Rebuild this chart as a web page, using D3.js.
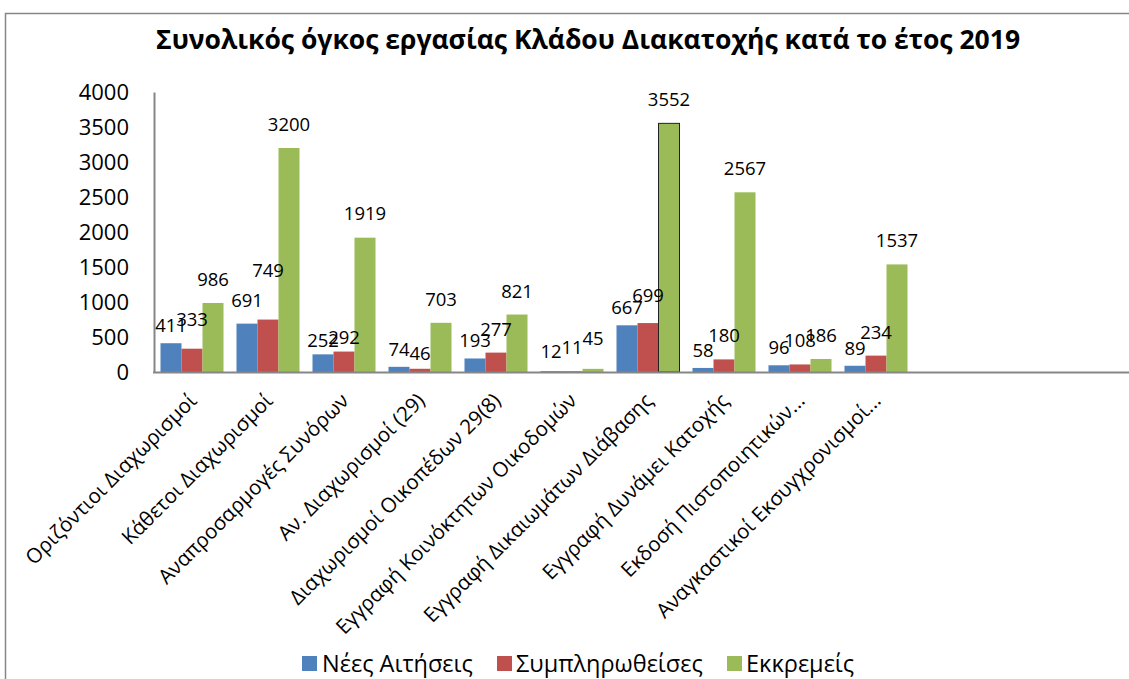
<!DOCTYPE html>
<html><head><meta charset="utf-8">
<script src="https://cdn.jsdelivr.net/npm/d3@7"></script>
<style>
html,body{margin:0;padding:0;background:#fff;}
svg{display:block;font-family:"Open Sans",sans-serif;}
</style></head>
<body>
<svg id="c" width="1129" height="679"></svg>
<script>
const title = "Συνολικός όγκος εργασίας Κλάδου Διακατοχής κατά το έτος 2019";
const categories = ["Οριζόντιοι Διαχωρισμοί","Κάθετοι Διαχωρισμοί","Αναπροσαρμογές Συνόρων","Αν. Διαχωρισμοί (29)","Διαχωρισμοί Οικοπέδων 29(8)","Εγγραφή Κοινόκτητων Οικοδομών","Εγγραφή Δικαιωμάτων Διάβασης","Εγγραφή Δυνάμει Κατοχής","Εκδοσή Πιστοποιητικών...","Αναγκαστικοί Εκσυγχρονισμοί..."];
const seriesNames = ["Νέες Αιτήσεις","Συμπληρωθείσες","Εκκρεμείς"];
const newApps   = [411, 691, 252, 74, 193, 12, 667, 58, 96, 89];
const completed = [333, 749, 292, 46, 277, 11, 699, 180, 108, 234];
const pending   = [986, 3200, 1919, 703, 821, 45, 3552, 2567, 186, 1537];
const yTicks = [0, 500, 1000, 1500, 2000, 2500, 3000, 3500, 4000];
const colors = ["#4F81BD", "#C0504D", "#9BBB59"];

// label placement tweaks (pixels above bar top), as in the reference layout
const seriesLabelGap = [11, 17, 17];
const labelGapOverride = {"0-1": 23, "1-1": 43, "2-0": 7, "2-1": 8, "3-1": 9, "1-0": 17, "2-2": 18, "6-1": 21, "5-0": 13, "5-2": 24};

const values = [newApps, completed, pending];
const svg = d3.select("#c");

// chart border
svg.append("rect").attr("x",5.5).attr("y",13.5).attr("width",1140).attr("height",700)
  .attr("fill","none").attr("stroke","#868686").attr("stroke-width",1.5);

svg.append("text").attr("x",588).attr("y",49).attr("text-anchor","middle")
  .attr("font-size",26.5).attr("font-weight","bold").attr("fill","#000").text(title);

const x0 = d3.scaleBand().domain(categories).range([154, 914]).paddingInner(0.171).paddingOuter(0.0855);
const x1 = d3.scaleBand().domain(seriesNames).range([0, x0.bandwidth()]);
const y = d3.scaleLinear().domain([0, 4000]).range([372, 92]);

// y axis
const yAxis = svg.append("g").attr("transform","translate(154,0)")
  .call(d3.axisLeft(y).tickValues(yTicks).tickSize(0).tickPadding(25).tickFormat(d3.format("d")));
yAxis.select(".domain").attr("stroke","#868686").attr("stroke-width",2);
yAxis.selectAll("text").attr("font-size",22).attr("fill","#000").attr("font-family","Open Sans");

// bars
categories.forEach((c, i) => {
  seriesNames.forEach((s, k) => {
    const v = values[k][i];
    svg.append("rect")
      .attr("x", x0(c) + x1(s)).attr("y", y(v))
      .attr("width", x1.bandwidth()).attr("height", y(0) - y(v))
      .attr("fill", colors[k])
      .attr("stroke", (k === 2 && i === 6) ? "#222" : "none")
      .attr("stroke-width", 1);
  });
});

// baseline
svg.append("line").attr("x1",153).attr("x2",1129).attr("y1",y(0)+0.5).attr("y2",y(0)+0.5)
  .attr("stroke","#868686").attr("stroke-width",2);

// data labels
categories.forEach((c, i) => {
  seriesNames.forEach((s, k) => {
    const v = values[k][i];
    const key = i + "-" + k;
    const gap = labelGapOverride[key] !== undefined ? labelGapOverride[key] : seriesLabelGap[k];
    svg.append("text")
      .attr("x", x0(c) + x1(s) + x1.bandwidth()/2)
      .attr("y", y(v) - gap)
      .attr("text-anchor","middle").attr("font-size",18.5).attr("fill","#000")
      .text(v);
  });
});

// category labels
const xAxis = svg.append("g");
categories.forEach(c => {
  const cx = x0(c) + x0.bandwidth()/2 + 6;
  xAxis.append("text")
    .attr("transform", `translate(${cx},402) rotate(-45)`)
    .attr("text-anchor","end").attr("font-size",20.5).attr("fill","#000")
    .text(c);
});

// legend
const legendItems = [{x:302, tx:322},{x:497, tx:516},{x:727, tx:746}];
seriesNames.forEach((s, k) => {
  svg.append("rect").attr("x",legendItems[k].x).attr("y",656).attr("width",15).attr("height",15).attr("fill",colors[k]);
  svg.append("text").attr("x",legendItems[k].tx).attr("y",672).attr("font-size",23.5).attr("fill","#000").text(s);
});
</script>
</body></html>
